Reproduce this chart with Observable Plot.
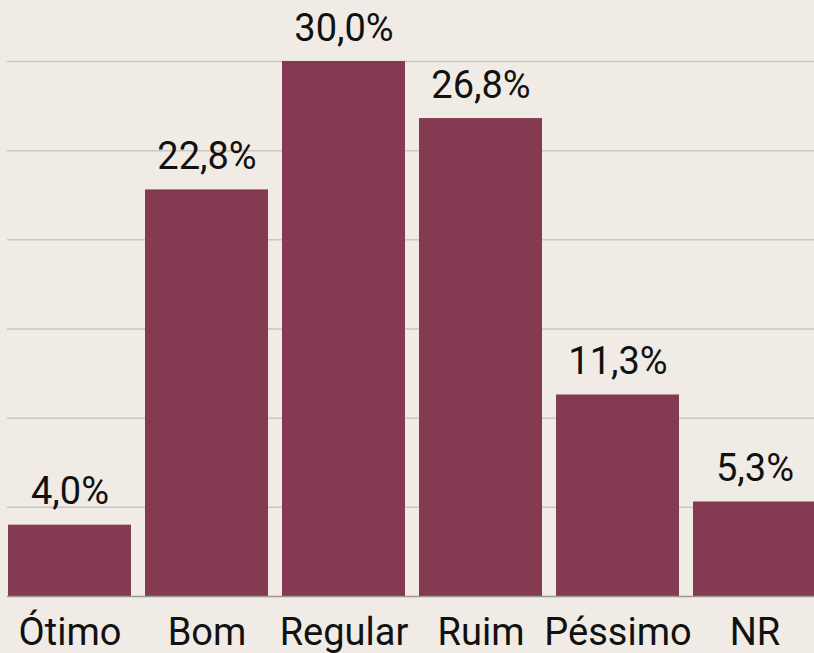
<!DOCTYPE html>
<html>
<head>
<meta charset="utf-8">
<script src="https://cdn.jsdelivr.net/npm/d3@7"></script>
<script src="https://cdn.jsdelivr.net/npm/@observablehq/plot@0.6"></script>
<style>
  html, body { margin: 0; padding: 0; background: #f0ece5; overflow: hidden; }
  #chart svg { display: block; }
</style>
</head>
<body>
<div id="chart"></div>
<script>
const categories = ["Ótimo", "Bom", "Regular", "Ruim", "Péssimo", "NR"];
const values = [4.0, 22.8, 30.0, 26.8, 11.3, 5.3];
const labels = ["4,0%", "22,8%", "30,0%", "26,8%", "11,3%", "5,3%"];
const gridTicks = [5, 10, 15, 20, 25, 30];

const data = categories.map((c, i) => ({cat: c, value: values[i], label: labels[i]}));

const plot = Plot.plot({
  width: 814,
  height: 653,
  marginLeft: 0,
  marginRight: -10,
  marginTop: 61,
  marginBottom: 57,
  style: {background: "#f0ece5", fontFamily: "Roboto, sans-serif", overflow: "visible"},
  x: {domain: categories, padding: 0.1, paddingOuter: 0.05, label: null},
  y: {domain: [0, 30], label: null},
  marks: [
    Plot.ruleY(gridTicks, {insetLeft: 7, insetRight: 10, stroke: "#cbc6bf", strokeWidth: 1.5}),
    Plot.barY(data, {x: "cat", y: "value", fill: "#843a50"}),
    Plot.ruleY([0], {insetLeft: 7, insetRight: 10, stroke: "#9a9690", strokeWidth: 1.5}),
    Plot.text(data, {x: "cat", y: "value", text: "label", dy: -21, lineAnchor: "bottom", textAnchor: "middle", fontSize: 38, fill: "#111"}),
    Plot.axisX({tickSize: 0, tickPadding: 22, fontSize: 38, fill: "#111", label: null}),
    Plot.axisY({ticks: [], label: null})
  ]
});
document.getElementById("chart").appendChild(plot);
</script>
</body>
</html>
